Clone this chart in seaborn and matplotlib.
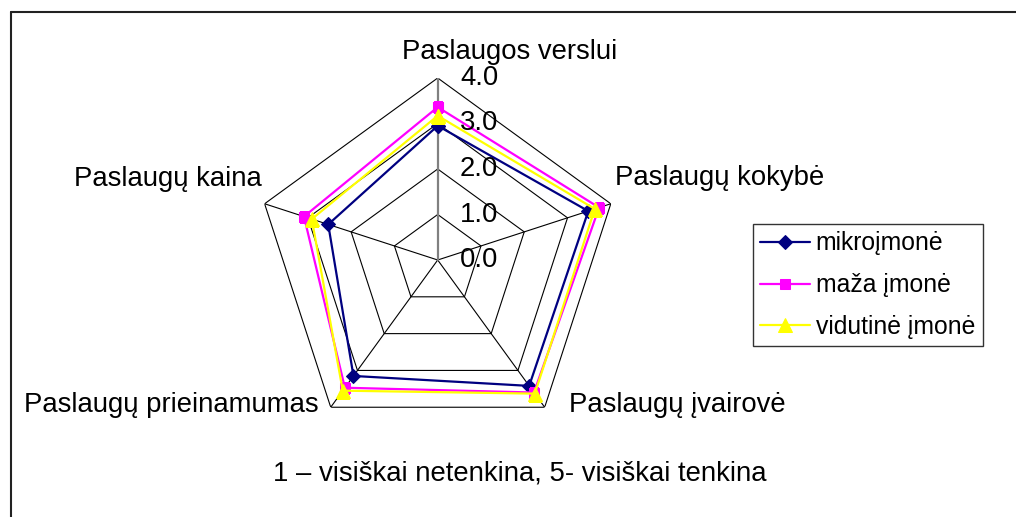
import numpy as np
import pandas as pd
import matplotlib
matplotlib.use("Agg")
import matplotlib.pyplot as plt
from matplotlib.lines import Line2D
import seaborn as sns

# ---- data ----
categories = ["Paslaugos verslui", "Paslaugų kokybė", "Paslaugų įvairovė",
              "Paslaugų prieinamumas", "Paslaugų kaina"]
series_names = ["mikroįmonė", "maža įmonė", "vidutinė įmonė"]
mikro = [2.95, 3.48, 3.42, 3.15, 2.53]
maza = [3.36, 3.73, 3.60, 3.47, 3.09]
vidutine = [3.17, 3.63, 3.63, 3.55, 2.91]
tick_values = [0.0, 1.0, 2.0, 3.0, 4.0]
footer = "1 – visiškai netenkina, 5- visiškai tenkina"

sns.set_style("white")
plt.rcParams["font.family"] = ["Liberation Sans", "DejaVu Sans"]
plt.rcParams["text.color"] = "black"

W, H = 1016, 517
fig = plt.figure(figsize=(W / 100, H / 100), dpi=100)
fig.patch.set_facecolor("white")

def fx(x):
    return x / W

def fy(y):
    return 1 - y / H

FS = 19.8

# polar axes placed so that centre is at ~ (437.7, 260) px, radius 182 px
cx, cy, R = 437.7, 260.0, 182.0
ax = fig.add_axes([fx(cx - R), fy(cy + R), 2 * R / W, 2 * R / H], projection="polar")
ax.set_theta_offset(np.pi / 2)
ax.set_theta_direction(-1)
ax.set_ylim(0, 4)
ax.grid(False)
ax.set_xticks([])
ax.set_yticks([])
ax.spines["polar"].set_visible(False)
ax.patch.set_alpha(0)

n = len(categories)
theta = np.linspace(0, 2 * np.pi, n + 1)

# pentagon grid rings
for lvl in tick_values[1:]:
    ax.plot(theta, [lvl] * (n + 1), color="black", lw=0.8, zorder=1)
# spokes
for i in range(n):
    if i == 0:
        ax.plot([theta[i], theta[i]], [0, 4], color="#808080", lw=1.6, zorder=1.5)
    else:
        ax.plot([theta[i], theta[i]], [0, 4], color="black", lw=0.8, zorder=1)

styles = [
    (mikro, "#000080", "D", 7),
    (maza, "#FF00FF", "s", 7.5),
    (vidutine, "#FFFF00", "^", 9.5),
]
for name, (vals, col, mk, ms) in zip(series_names, styles):
    df = pd.DataFrame({"theta": theta, "r": list(vals) + [vals[0]]})
    sns.lineplot(data=df, x="theta", y="r", ax=ax, sort=False, color=col,
                 lw=1.6, marker=mk, markersize=ms, markeredgecolor=col,
                 markerfacecolor=col, label=name, zorder=3)

ax.set_xlabel("")
ax.set_ylabel("")
handles, labels = ax.get_legend_handles_labels()
if ax.get_legend() is not None:
    ax.get_legend().remove()

# value tick labels
for v in tick_values:
    ax.annotate(f"{v:.1f}", xy=(0, v), xytext=(16, 0), textcoords="offset points",
                ha="left", va="center", fontsize=FS, color="black",
                annotation_clip=False, zorder=4)

# category labels
fig.text(fx(509.5), fy(59), categories[0], ha="center", va="baseline", fontsize=FS)
fig.text(fx(615), fy(185), categories[1], ha="left", va="baseline", fontsize=FS)
fig.text(fx(786), fy(412), categories[2], ha="right", va="baseline", fontsize=FS)
fig.text(fx(24), fy(412), categories[3], ha="left", va="baseline", fontsize=FS)
fig.text(fx(262), fy(186), categories[4], ha="right", va="baseline", fontsize=FS)
fig.text(fx(520), fy(480), footer, ha="center", va="baseline", fontsize=FS)

# legend
leg = fig.legend(handles, labels, loc="upper left",
                 bbox_to_anchor=(fx(752.7), fy(224)), bbox_transform=fig.transFigure,
                 frameon=True, fancybox=False, fontsize=17.8, handlelength=2.0,
                 borderaxespad=0, borderpad=0.3, labelspacing=0.72,
                 handletextpad=0.25)
leg.get_frame().set_edgecolor("black")
leg.get_frame().set_linewidth(1.0)
for t in leg.get_texts():
    t.set_color("black")

# outer chart border (left and top visible)
fig.add_artist(Line2D([fx(11), fx(11)], [fy(12), 0], transform=fig.transFigure,
                      color="#222222", lw=1.5))
fig.add_artist(Line2D([fx(11), 1], [fy(12), fy(12)], transform=fig.transFigure,
                      color="#222222", lw=1.5))

fig.savefig("out.png", dpi=100)
